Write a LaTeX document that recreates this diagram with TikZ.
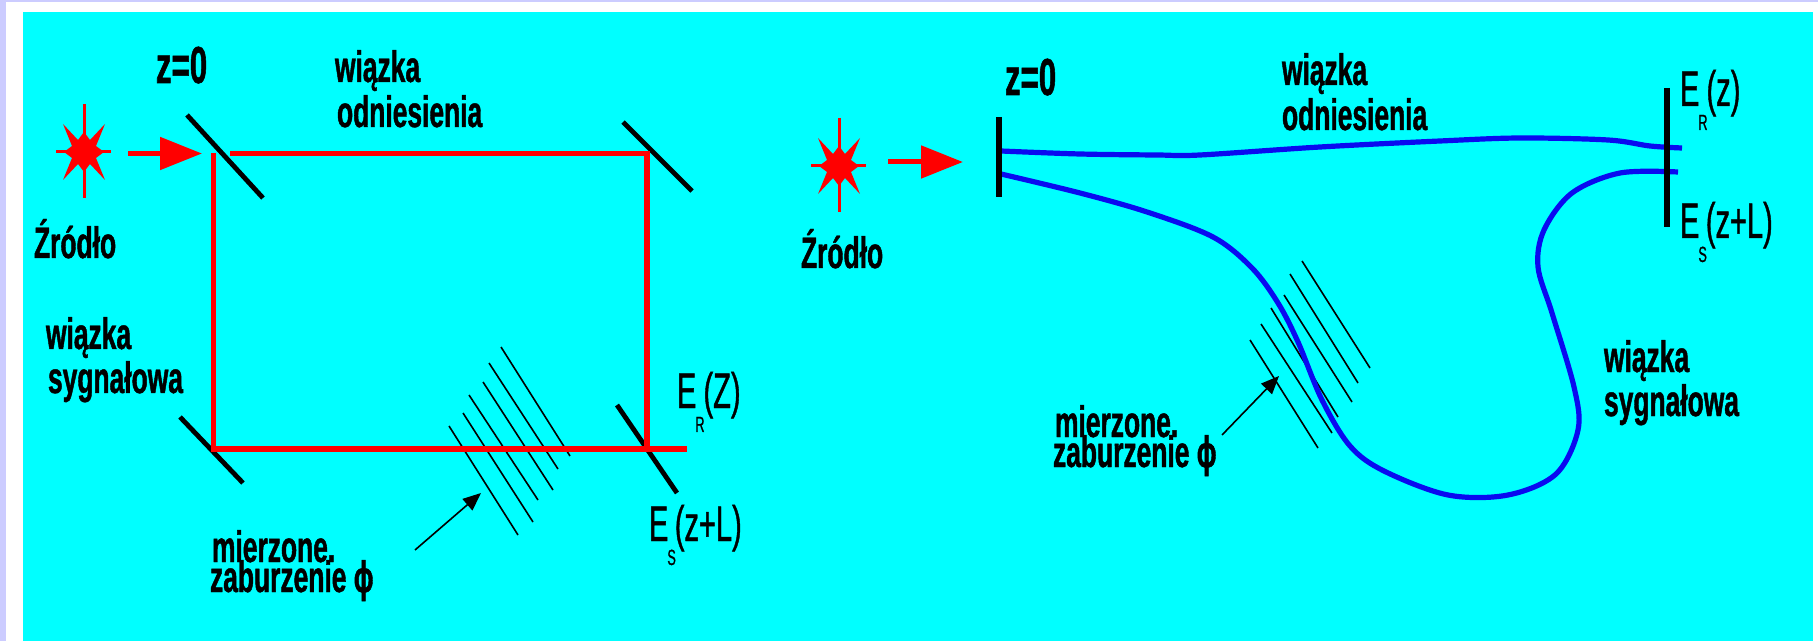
\documentclass[tikz,border=0pt]{standalone}
\usepackage{fontspec}
\usetikzlibrary{arrows.meta}
\newfontfamily\lab{Liberation Sans}[FakeStretch=0.6,FakeBold=1]
\newfontfamily\eqf{Liberation Sans}[FakeStretch=0.58,FakeBold=0.8]
\definecolor{page}{HTML}{CCCCFF}
\definecolor{sky}{HTML}{00FFFF}
\definecolor{rbeam}{HTML}{FF0000}
\definecolor{bbeam}{HTML}{0A0AF0}
\newcommand{\Field}[2]{{\eqf\fontsize{25}{25}\selectfont E\kern-0.5pt\raisebox{-12pt}{\fontsize{11}{11}\selectfont #1}\kern-0.5pt #2}}
\tikzset{
  lbl/.style={anchor=base west,inner sep=0pt,outer sep=0pt,font=\lab\bfseries\fontsize{22}{22}\selectfont},
  big lbl/.style={lbl,font=\lab\bfseries\fontsize{26}{26}\selectfont},
  eqn/.style={anchor=base west,inner sep=0pt,outer sep=0pt},
  mirror/.style={draw=black,line width=2.4pt},
  red beam/.style={draw=rbeam,line width=2.7pt},
  blue beam/.style={draw=bbeam,line width=2.6pt,line join=round},
  hatch/.style={draw=black,line width=0.8pt},
  pump/.style={draw=rbeam,line width=2.5pt,-{Triangle[length=21pt,width=16pt]}},
  pointer/.style={draw=black,line width=0.8pt,-{Triangle[length=9pt,width=7.5pt]}},
  burst/.pic={
    \fill[rbeam] (-21,-28)--(-6,-12)--(0,-20)--(6,-12)--(21,-28)--(12,-6)--(20,0)--(12,6)--(21,28)--(6,12)--(0,20)--(-6,12)--(-21,28)--(-12,6)--(-20,0)--(-12,-6)--cycle;
    \draw[rbeam,line width=1.5pt] (0,-48)--(0,46) (-28,0)--(27,0);
  }
}
\begin{document}
\begin{tikzpicture}[x=0.5pt,y=-0.5pt]
\useasboundingbox (0,0) rectangle (1818,641);
\fill[page] (0,0) rectangle (1818,641);
\fill[white] (6,2) rectangle (1818,641);
\fill[sky] (23,12) rectangle (1813,641);

% ---- left set-up
\coordinate (LA) at (213.5,153.5);
\coordinate (LB) at (647,153.5);
\coordinate (LC) at (647,449);
\coordinate (LD) at (213.5,449);
\coordinate (LOut) at (687,449);
\coordinate (LBeamR) at (233,153.5);
\draw[hatch] (449,426)--(518,535);
\draw[hatch] (463,413)--(533,522);
\draw[hatch] (469,395)--(538,500);
\draw[hatch] (483,382)--(553,490);
\draw[hatch] (489,363)--(558,469);
\draw[hatch] (501,347)--(570,456);
\draw[mirror] (187,115)--(263,198);
\draw[mirror] (623,122)--(692,191);
\draw[mirror] (180,417)--(243,483);
\draw[mirror] (617,405)--(677,493);
\draw[red beam,line cap=rect] (LBeamR)--(LB)--(LC);
\draw[red beam] (LA)--(LD)--(LOut);
\pic at (84,152) {burst};
\coordinate (LPs) at (128,153.5);
\coordinate (LPe) at (202,153.5);
\draw[pump] (LPs)--(LPe);
\coordinate (LAs) at (415,550);
\coordinate (LAe) at (481,493);
\draw[pointer] (LAs)--(LAe);

\node[big lbl] (lz) at (156,83) {z=0};
\node[lbl] (lw1) at (335,82) {wiązka};
\node[lbl] (lo) at (337,127) {odniesienia};
\node[lbl] (ls) at (34,258) {Źródło};
\node[lbl] (lw2) at (46,349) {wiązka};
\node[lbl] (lsy) at (48,393) {sygnałowa};
\node[lbl] (lm1) at (212,562) {mierzone.};
\node[lbl] (lm2) at (210,592) {zaburzenie ϕ};
\node[eqn] (ler) at (677,408) {\Field{R}{(Z)}};
\node[eqn] (les) at (649,541) {\Field{S}{(z+L)}};

% ---- right set-up
\draw[hatch] (1250,340)--(1318,448);
\draw[hatch] (1261,324)--(1332,433);
\draw[hatch] (1271,308)--(1338,417);
\draw[hatch] (1284,295)--(1352,402);
\draw[hatch] (1290,274)--(1358,383);
\draw[hatch] (1302,261)--(1370,368);
\coordinate (RMa) at (999,117);
\coordinate (RMb) at (999,197);
\coordinate (RNa) at (1667,88);
\coordinate (RNb) at (1667,227);
\draw[blue beam] plot[smooth,tension=0.55] coordinates {(1001,151) (1080,154) (1157,155) (1200,155) (1320,147) (1440,141) (1520,138) (1608,140) (1650,146) (1682,148)};
\draw[blue beam] plot[smooth,tension=0.55] coordinates {(1001,174) (1080,193) (1147,212) (1213,237) (1252,268) (1278,303) (1298,342) (1322,400) (1350,446) (1384,471) (1448,495) (1508,495) (1556,474) (1578,430) (1574,387) (1552,313) (1538,267) (1544,230) (1572,193) (1620,173) (1678,172)};
\draw[mirror,line width=3pt] (RMa)--(RMb);
\draw[mirror,line width=3pt] (RNa)--(RNb);
\pic at (839,166) {burst};
\coordinate (RPs) at (888,162);
\coordinate (RPe) at (963,162);
\draw[pump] (RPs)--(RPe);
\coordinate (RAs) at (1222,435);
\coordinate (RAe) at (1279,376);
\draw[pointer] (RAs)--(RAe);

\node[big lbl] (rz) at (1005,95) {z=0};
\node[lbl] (rw1) at (1282,85) {wiązka};
\node[lbl] (ro) at (1282,130) {odniesienia};
\node[lbl] (rs) at (801,268) {Źródło};
\node[lbl] (rw2) at (1604,372) {wiązka};
\node[lbl] (rsy) at (1604,416) {sygnałowa};
\node[lbl] (rm1) at (1055,437) {mierzone.};
\node[lbl] (rm2) at (1053,467) {zaburzenie ϕ};
\node[eqn] (rer) at (1680,106) {\Field{R}{(z)}};
\node[eqn] (res) at (1680,238) {\Field{S}{(z+L)}};
\end{tikzpicture}
\end{document}
